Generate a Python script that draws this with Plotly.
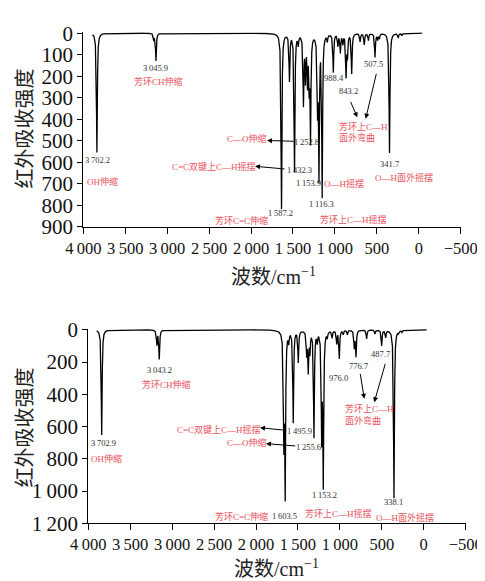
import numpy as np
import plotly.graph_objects as go

# ---------------- data ----------------
# Panel a: peak positions (as drawn on the wavenumber axis) and absorption intensities
peaks_a_pos = [3838, 3160, 3134, 1637, 1542, 1482, 1437, 1375, 1351, 1327, 1307, 1291,
               1207, 1190, 1152, 1091, 1019, 965, 935, 905, 867, 850, 800, 700, 650,
               600, 522, 490, 470, 349, 245, 200]
peaks_a_int = [555, 30, 128, 815, 215, 640, 45, 320, 200, 215, 215, 480,
               320, 640, 745, 30, 178, 55, 85, 45, 195, 100, 185, 38, 52,
               32, 110, 28, 22, 556, 20, 10]

# Panel b
peaks_b_pos = [3840, 3182, 3154, 1668, 1652, 1610, 1556, 1496, 1396, 1377, 1357, 1309,
               1270, 1217, 1198, 1150, 1093, 1038, 1007, 960, 910, 828, 808, 681,
               582, 502, 454, 355, 300, 260]
peaks_b_int = [652, 90, 180, 650, 980, 60, 570, 195, 140, 245, 125, 660,
               60, 640, 930, 35, 45, 80, 175, 25, 28, 105, 160, 55,
               25, 97, 45, 1044, 15, 12]

wn_a = [3890, -40]
wn_b = [3900, -35]

x_tickvals = [4000, 3500, 3000, 2500, 2000, 1500, 1000, 500, 0, -500]
x_ticktext = ["4\u2009000", "3\u2009500", "3\u2009000", "2\u2009500", "2\u2009000",
              "1\u2009500", "1\u2009000", "500", "0", "\u2212500"]
ya_tickvals = [0, 100, 200, 300, 400, 500, 600, 700, 800, 900]
ya_ticktext = ["0", "100", "200", "300", "400", "500", "600", "700", "800", "900"]
yb_tickvals = [0, 200, 400, 600, 800, 1000, 1200]
yb_ticktext = ["0", "200", "400", "600", "800", "1\u2009000", "1\u2009200"]

GAMMA = 6.0


def spectrum(pos, inten, lo_hi):
    w = np.arange(lo_hi[1], lo_hi[0] + 0.5, 0.5)
    y = np.zeros_like(w)
    for p, a in zip(pos, inten):
        y += a * GAMMA ** 2 / ((w - p) ** 2 + GAMMA ** 2)
    return w, y


wa, ya = spectrum(peaks_a_pos, peaks_a_int, wn_a)
wb, yb = spectrum(peaks_b_pos, peaks_b_int, wn_b)

SERIF = "Liberation Serif, 'Times New Roman', Noto Sans CJK SC"
LBL = "Liberation Serif, Noto Sans CJK SC"
RED = "#e9525c"
NUM = "#333333"

W, H = 477, 573  # page body has an 8px margin

fig = go.Figure()
fig.add_trace(go.Scatter(x=wa, y=ya, mode="lines", line=dict(color="black", width=1.3),
                         xaxis="x", yaxis="y", showlegend=False, hoverinfo="skip"))
fig.add_trace(go.Scatter(x=wb, y=yb, mode="lines", line=dict(color="black", width=1.3),
                         xaxis="x2", yaxis="y2", showlegend=False, hoverinfo="skip"))

xcommon = dict(range=[4000, -500], tickvals=x_tickvals, ticktext=x_ticktext,
               showline=True, linecolor="black", linewidth=1.3, ticks="outside",
               ticklen=6, tickwidth=1.2, tickcolor="black", showgrid=False, zeroline=False,
               tickangle=0, automargin=False,
               tickfont=dict(family=SERIF, size=16.5, color="#111"))
ycommon = dict(showline=True, linecolor="black", linewidth=1.3, ticks="outside",
               ticklen=5, tickwidth=1.2, tickcolor="black", showgrid=False, zeroline=False,
               automargin=False,
               tickfont=dict(family=SERIF, size=21, color="#111"))

fig.update_layout(
    width=W, height=H,
    margin=dict(l=0, r=0, t=0, b=0, autoexpand=False),
    paper_bgcolor="white", plot_bgcolor="white",
    xaxis=dict(domain=[0.1579, 0.9491], anchor="y", **xcommon),
    yaxis=dict(domain=[0.6183, 0.9576], anchor="x", range=[900, -4],
               tickvals=ya_tickvals, ticktext=ya_ticktext, **ycommon),
    xaxis2=dict(domain=[0.1683, 0.9595], anchor="y2", **xcommon),
    yaxis2=dict(domain=[0.1007, 0.4398], anchor="x2", range=[1200, -5],
                tickvals=yb_tickvals, ticktext=yb_ticktext, **ycommon),
)

ann = []


def num(text, x, y, ax="x", ay="y"):
    ann.append(dict(text=text, x=x, y=y, xref=ax, yref=ay, showarrow=False,
                    font=dict(family=LBL, size=8.5, color=NUM)))


def red(text, x, y, ax="x", ay="y", xanchor="center"):
    ann.append(dict(text=text, x=x, y=y, xref=ax, yref=ay, showarrow=False, xanchor=xanchor,
                    font=dict(family=LBL, size=9, color=RED)))


def arrow(x, y, tx, ty, ax="x", ay="y"):
    ann.append(dict(text="", x=x, y=y, ax=tx, ay=ty, xref=ax, yref=ay,
                    axref=ax, ayref=ay, showarrow=True, arrowhead=2, arrowsize=1,
                    arrowwidth=1, arrowcolor="black"))


# ---- panel a ----
ann.append(dict(text="a", x=3717, y=-66, xref="x", yref="y", showarrow=False,
                font=dict(family=SERIF, size=17, color="black")))
num("3\u2009045.9", 3145, 161)
red("芳环CH伸缩", 3109, 225)
num("3\u2009702.2", 3825, 591)
red("OH伸缩", 3777, 688)
red("C\u2014O伸缩", 2052, 488)
num("1\u2009252.8", 1336, 507)
arrow(1810, 499, 1476, 503)
red("C=C双键上C\u2014H摇摆", 2442, 618)
arrow(1953, 619, 1583, 632)
num("1\u2009432.3", 1425, 634)
num("1\u2009153.9", 1317, 696)
red("O\u2014H摇摆", 888, 699)
num("1\u2009116.3", 1157, 795)
num("1\u2009587.2", 1646, 838)
red("芳环C=C伸缩", 2111, 872)
red("芳环上C\u2014H摇摆", 781, 866)
num("988.4", 1011, 208)
num("843.2", 840, 270)
num("507.5", 542, 144)
red("芳环上C\u2014H", 979, 434, xanchor="left")
red("面外弯曲", 979, 485, xanchor="left")
arrow(733, 391, 820, 313)
arrow(633, 398, 502, 182)
num("341.7", 352, 610)
red("O\u2014H面外摇摆", 176, 673)

# ---- panel b ----
ann.append(dict(text="b", x=3702, y=-80, xref="x2", yref="y2", showarrow=False,
                font=dict(family=SERIF, size=17, color="black")))
b = dict(ax="x2", ay="y2")
num("3\u2009043.2", 3145, 247, **b)
red("芳环CH伸缩", 3065, 342, **b)
num("3\u2009702.9", 3821, 702, **b)
red("OH伸缩", 3781, 799, **b)
red("C=C双键上C\u2014H摇摆", 2442, 619, **b)
arrow(1953, 607, 1634, 624, **b)
num("1\u2009495.9", 1476, 628, **b)
red("C\u2014O伸缩", 2108, 702, **b)
arrow(1881, 706, 1515, 721, **b)
num("1\u2009255.6", 1377, 727, **b)
num("1\u2009153.2", 1178, 1025, **b)
red("芳环上C\u2014H摇摆", 1019, 1138, **b)
num("1\u2009603.5", 1655, 1153, **b)
red("芳环C=C伸缩", 2171, 1159, **b)
num("338.1", 363, 1070, **b)
red("O\u2014H面外摇摆", 224, 1165, **b)
num("976.0", 1019, 301, **b)
num("776.7", 781, 222, **b)
num("487.7", 514, 150, **b)
red("芳环上C\u2014H", 967, 486, xanchor="left", **b)
red("面外弯曲", 967, 562, xanchor="left", **b)
arrow(709, 428, 760, 264, **b)
arrow(590, 449, 454, 202, **b)

# ---- axis titles ----
for xx, yy in ((0.0305, 0.7888), (0.0305, 0.267)):
    ann.append(dict(text="红外吸收强度", x=xx, y=yy, xanchor="center", yanchor="middle",
                    xref="paper", yref="paper", showarrow=False, textangle=-90,
                    font=dict(family="Noto Sans CJK SC", size=20, color="#222")))
for xx, yy in ((0.5556, 0.5323), (0.5639, 0.0227)):
    ann.append(dict(text="波数/cm<sup>\u22121</sup>", x=xx, y=yy,
                    xanchor="center", yanchor="middle",
                    xref="paper", yref="paper", showarrow=False,
                    font=dict(family=SERIF, size=20, color="#222")))

fig.update_layout(annotations=ann)
fig.write_html("out.html")
